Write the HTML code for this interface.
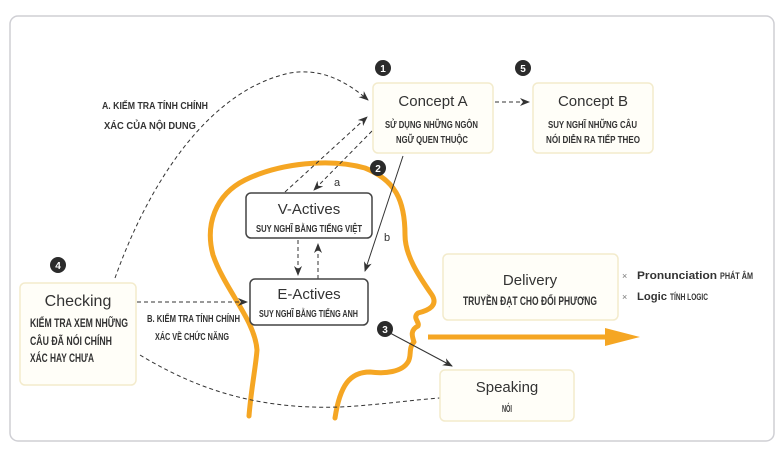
<!DOCTYPE html>
<html><head><meta charset="utf-8"><style>
html,body{margin:0;padding:0;background:#fff;}
svg{display:block;}
.t{font-family:"Liberation Sans",sans-serif;fill:#333;}
.n{font-family:"Liberation Sans",sans-serif;font-weight:bold;fill:#333;}
</style></head><body>
<svg width="784" height="456" viewBox="0 0 784 456" xmlns="http://www.w3.org/2000/svg">
<defs>
<marker id="ah" markerWidth="10" markerHeight="8" refX="9" refY="4" orient="auto" markerUnits="userSpaceOnUse"><path d="M0,0 L10,4 L0,8 L3,4 Z" fill="#333"/></marker>
</defs>
<rect x="0" y="0" width="784" height="456" fill="#fff"/>
<rect x="10" y="16" width="764" height="425" rx="8" fill="none" stroke="#cfcfd4" stroke-width="1.5"/>

<g fill="none" stroke="#f5a623" stroke-width="5" stroke-linecap="round" stroke-linejoin="round">
<path d="M249,416 C251,390 256,365 257,350 C255,320 225,290 213,255 C205,225 215,195 245,180 C280,163 330,158 365,168 C395,180 405,200 405,235 C405,255 418,275 432,295 C438,305 430,310 418,313 C412,318 420,322 418,326 C410,330 412,336 414,342 C408,348 412,356 408,362 C402,372 385,374 370,372 C350,372 340,385 335,418"/>
</g>

<line x1="428" y1="337" x2="612" y2="337" stroke="#f5a623" stroke-width="5"/>
<path d="M605,328 L640,337 L605,346 Z" fill="#f5a623"/>

<g fill="none" stroke="#333" stroke-width="1" stroke-dasharray="4,3">
<path d="M115,278 C150,180 210,90 290,73 C320,68 345,80 368,100" marker-end="url(#ah)"/>
<path d="M137,302 L247,302" marker-end="url(#ah)"/>
<path d="M140,355 C190,385 250,410 340,407 C380,405 410,400 440,398"/>
<path d="M285,192 L367,117" marker-end="url(#ah)"/>
<path d="M372,131 L314,190" marker-end="url(#ah)"/>
<path d="M298,240 L298,275" marker-end="url(#ah)"/>
<path d="M318,279 L318,244" marker-end="url(#ah)"/>
<path d="M495,102 L529,102" marker-end="url(#ah)"/>
</g>
<g fill="none" stroke="#333" stroke-width="1">
<path d="M403,156 L365,271" marker-end="url(#ah)"/>
<path d="M390,333 L452,366" marker-end="url(#ah)"/>
</g>

<g fill="#fffef8" stroke="#f3ebcc" stroke-width="1.5">
<rect x="373" y="83" width="120" height="70" rx="5"/>
<rect x="533" y="83" width="120" height="70" rx="5"/>
<rect x="20" y="283" width="116" height="102" rx="5"/>
<rect x="443" y="254" width="175" height="66" rx="5"/>
<rect x="440" y="370" width="134" height="51" rx="5"/>
</g>
<g fill="#fff" stroke="#444" stroke-width="1.5">
<rect x="246" y="193" width="126" height="45" rx="5"/>
<rect x="250" y="279" width="118" height="46" rx="5"/>
</g>

<g fill="#2b2b2b">
<circle cx="383" cy="68" r="8"/><circle cx="523" cy="68" r="8"/>
<circle cx="378" cy="168" r="8"/><circle cx="58" cy="265" r="8"/>
<circle cx="385" cy="329" r="8"/>
</g>
<g class="t" font-size="10" font-weight="bold" text-anchor="middle" style="fill:#fff">
<text x="383" y="72">1</text><text x="523" y="72">5</text><text x="378" y="172">2</text>
<text x="58" y="269">4</text><text x="385" y="333">3</text>
</g>

<g class="t" font-size="15" text-anchor="middle">
<text x="433" y="106">Concept A</text>
<text x="593" y="106">Concept B</text>
<text x="309" y="214">V-Actives</text>
<text x="309" y="299">E-Actives</text>
<text x="78" y="306" font-size="16">Checking</text>
<text x="530" y="285">Delivery</text>
<text x="507" y="392">Speaking</text>
</g>
<g class="n" font-size="10.5">
<text x="385" y="128" textLength="93" lengthAdjust="spacingAndGlyphs">SỬ DỤNG NHỮNG NGÔN</text>
<text x="396" y="143" textLength="72" lengthAdjust="spacingAndGlyphs">NGỮ QUEN THUỘC</text>
<text x="548" y="128" textLength="89" lengthAdjust="spacingAndGlyphs">SUY NGHĨ NHỮNG CÂU</text>
<text x="546" y="143" textLength="94" lengthAdjust="spacingAndGlyphs">NÓI DIỄN RA TIẾP THEO</text>
<text x="256" y="232" textLength="106" lengthAdjust="spacingAndGlyphs">SUY NGHĨ BẰNG TIẾNG VIỆT</text>
<text x="259" y="317" textLength="99" lengthAdjust="spacingAndGlyphs">SUY NGHĨ BẰNG TIẾNG ANH</text>
<text x="463" y="305" font-size="11.5" textLength="134" lengthAdjust="spacingAndGlyphs">TRUYỀN ĐẠT CHO ĐỐI PHƯƠNG</text>
<text x="502" y="412" textLength="10" lengthAdjust="spacingAndGlyphs">NÓI</text>
<text x="102" y="109" textLength="106" lengthAdjust="spacingAndGlyphs">A. KIẾM TRA TÍNH CHÍNH</text>
<text x="104" y="129" textLength="92" lengthAdjust="spacingAndGlyphs">XÁC CỦA NỘI DUNG</text>
<text x="147" y="322" textLength="93" lengthAdjust="spacingAndGlyphs">B. KIỂM TRA TÍNH CHÍNH</text>
<text x="155" y="340" textLength="74" lengthAdjust="spacingAndGlyphs">XÁC VỀ CHỨC NĂNG</text>
<text x="30" y="327" font-size="12" textLength="98" lengthAdjust="spacingAndGlyphs">KIỂM TRA XEM NHỮNG</text>
<text x="30" y="345" font-size="12" textLength="82" lengthAdjust="spacingAndGlyphs">CÂU ĐÃ NÓI CHÍNH</text>
<text x="30" y="362" font-size="12" textLength="64" lengthAdjust="spacingAndGlyphs">XÁC HAY CHƯA</text>
<text x="720" y="279" font-size="9" textLength="33" lengthAdjust="spacingAndGlyphs">PHÁT ÂM</text>
<text x="670" y="300" font-size="9" textLength="38" lengthAdjust="spacingAndGlyphs">TÍNH LOGIC</text>
</g>
<g class="t" font-size="11">
<text x="334" y="186">a</text>
<text x="384" y="241">b</text>
<text x="622" y="279" font-size="9" style="fill:#777">×</text>
<text x="622" y="300" font-size="9" style="fill:#777">×</text>
<text x="637" y="279" font-weight="bold" textLength="80" lengthAdjust="spacingAndGlyphs">Pronunciation</text>
<text x="637" y="300" font-weight="bold" textLength="30" lengthAdjust="spacingAndGlyphs">Logic</text>
</g>
</svg>
</body></html>
